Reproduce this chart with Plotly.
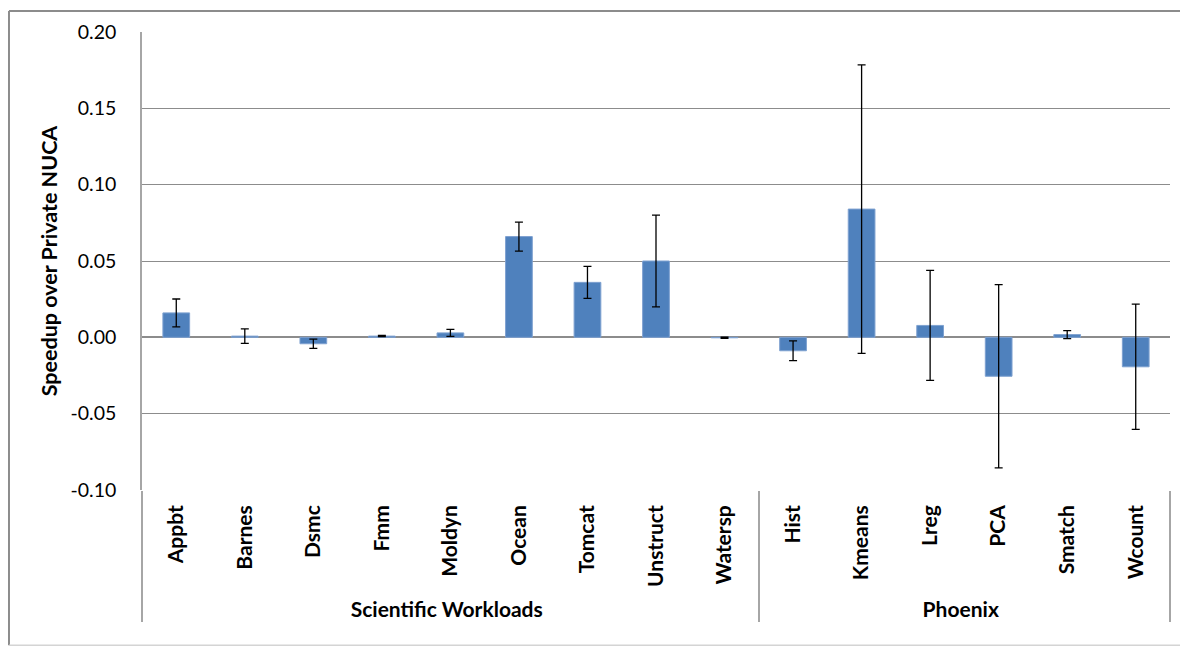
import plotly.graph_objects as go

groups = ["Scientific Workloads"] * 9 + ["Phoenix"] * 6
benchmarks = ["Appbt", "Barnes", "Dsmc", "Fmm", "Moldyn", "Ocean", "Tomcat", "Unstruct", "Watersp",
              "Hist", "Kmeans", "Lreg", "PCA", "Smatch", "Wcount"]
speedup = [0.016, 0.0008, -0.0042, 0.0008, 0.0029, 0.066, 0.036, 0.050, -0.0003,
           -0.0088, 0.084, 0.0078, -0.0255, 0.0018, -0.0193]
errors = [0.0091, 0.0047, 0.003, 0.0004, 0.0023, 0.0095, 0.0105, 0.030, 0.0004,
          0.0065, 0.0945, 0.036, 0.060, 0.0026, 0.041]
ytick_vals = [-0.10, -0.05, 0.00, 0.05, 0.10, 0.15, 0.20]
ytick_text = ["-0.10", "-0.05", "0.00", "0.05", "0.10", "0.15", "0.20"]

FONT = "Lato"

group_labels = [f"<span style='font-size:21px'><b>{g}</b></span>" for g in groups]
bench_labels = [f"<b>{b}</b>" for b in benchmarks]

fig = go.Figure()
fig.add_trace(go.Bar(
    x=[group_labels, bench_labels],
    y=speedup,
    marker=dict(color="#4F81BD", line=dict(color="#7EA1D0", width=1)),
    error_y=dict(type="data", array=errors, visible=True, color="#000000",
                 thickness=1.3, width=4),
    width=0.39,
))

fig.update_layout(
    width=1188, height=647,
    margin=dict(l=134, r=26, t=22, b=165),
    paper_bgcolor="white", plot_bgcolor="white",
    showlegend=False,
    font=dict(family=FONT, color="#000000"),
    xaxis=dict(
        type="multicategory",
        tickangle=-90,
        tickfont=dict(family=FONT, size=21, color="#000000"),
        showdividers=True, dividercolor="#A6A6A6", dividerwidth=1.5,
        showgrid=False, showline=False, zeroline=False,
        ticks="", ticklabelstandoff=10,
    ),
    yaxis=dict(
        range=[-0.10, 0.20],
        tickvals=ytick_vals, ticktext=ytick_text,
        tickfont=dict(family=FONT, size=19.5, color="#000000"),
        showgrid=True, gridcolor="#8C8C8C", gridwidth=1,
        zeroline=True, zerolinecolor="#8C8C8C", zerolinewidth=1.5,
        showline=True, linecolor="#A6A6A6", linewidth=1.5,
        ticks="", ticklabelstandoff=20,
        title=dict(text="<b>Speedup over Private NUCA</b>", standoff=7,
                   font=dict(family=FONT, size=21.5, color="#000000")),
    ),
)

# outer chart frame
fig.add_shape(type="line", xref="paper", yref="paper",
              x0=-0.1294, x1=-0.1294, y0=-0.339, y1=1.0457,
              line=dict(color="#8C8C8C", width=2), layer="below")
fig.add_shape(type="line", xref="paper", yref="paper",
              x0=-0.1294, x1=1.1, y0=1.0457, y1=1.0457,
              line=dict(color="#8C8C8C", width=2), layer="below")
fig.add_shape(type="line", xref="paper", yref="paper",
              x0=-0.1294, x1=1.1, y0=-0.339, y1=-0.339,
              line=dict(color="#D4D4D4", width=1.5), layer="below")

fig.write_html("out.html")
